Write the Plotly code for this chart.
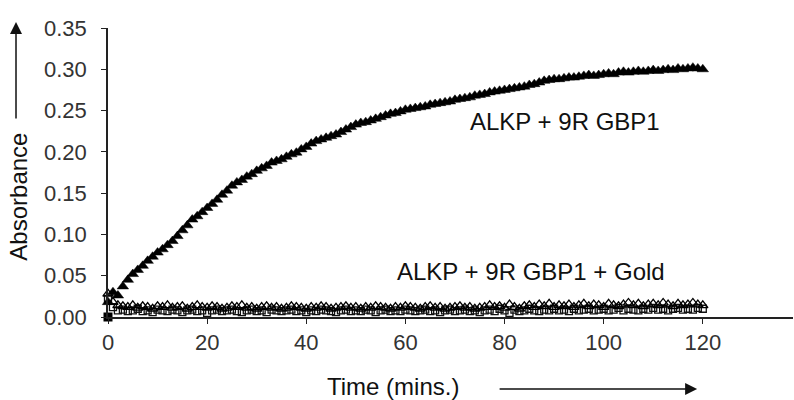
import plotly.graph_objects as go

# Time points (minutes)
time_min = list(range(0, 121))

# ALKP + 9R GBP1 (absorbance)
alkp_gbp1 = [
    0.018, 0.030, 0.026, 0.037, 0.045, 0.052, 0.057, 0.062, 0.068, 0.073,
    0.078, 0.082, 0.087, 0.092, 0.098, 0.105, 0.111, 0.118, 0.122, 0.127,
    0.132, 0.137, 0.142, 0.148, 0.153, 0.159, 0.163, 0.166, 0.170, 0.173,
    0.177, 0.180, 0.183, 0.187, 0.189, 0.191, 0.194, 0.197, 0.199, 0.203,
    0.206, 0.210, 0.213, 0.215, 0.217, 0.219, 0.221, 0.224, 0.227, 0.230,
    0.233, 0.235, 0.236, 0.238, 0.240, 0.242, 0.244, 0.246, 0.247, 0.249,
    0.251, 0.252, 0.253, 0.254, 0.255, 0.257, 0.258, 0.259, 0.260, 0.261,
    0.263, 0.264, 0.265, 0.266, 0.268, 0.269, 0.270, 0.272, 0.273, 0.274,
    0.275, 0.276, 0.277, 0.278, 0.279, 0.281, 0.282, 0.284, 0.286, 0.287,
    0.288, 0.288, 0.289, 0.290, 0.290, 0.291, 0.292, 0.293, 0.292, 0.293,
    0.294, 0.295, 0.294, 0.296, 0.297, 0.296, 0.297, 0.298, 0.297, 0.298,
    0.299, 0.298, 0.299, 0.300, 0.299, 0.301, 0.300, 0.301, 0.302, 0.301,
    0.300,
]

# ALKP + 9R GBP1 + Gold, replicate A (open triangles)
alkp_gold_a = [
    0.028, 0.018, 0.014, 0.013, 0.012, 0.014, 0.011, 0.013, 0.012, 0.010,
    0.013, 0.012, 0.014, 0.011, 0.012, 0.013, 0.010, 0.012, 0.014, 0.012,
    0.011, 0.013, 0.012, 0.010, 0.011, 0.013, 0.012, 0.014, 0.011, 0.012,
    0.010, 0.012, 0.013, 0.011, 0.012, 0.010, 0.011, 0.013, 0.012, 0.011,
    0.010, 0.012, 0.011, 0.013, 0.012, 0.010, 0.011, 0.012, 0.013, 0.011,
    0.012, 0.010, 0.012, 0.011, 0.013, 0.012, 0.011, 0.010, 0.012, 0.011,
    0.013, 0.012, 0.011, 0.010, 0.012, 0.013, 0.011, 0.012, 0.010, 0.011,
    0.012, 0.013, 0.011, 0.012, 0.010, 0.011, 0.012, 0.014, 0.012, 0.013,
    0.011, 0.015, 0.012, 0.010, 0.013, 0.014, 0.012, 0.015, 0.013, 0.016,
    0.012, 0.014, 0.013, 0.015, 0.012, 0.014, 0.016, 0.013, 0.015, 0.014,
    0.012, 0.016, 0.014, 0.013, 0.015, 0.017, 0.014, 0.016, 0.013, 0.015,
    0.016, 0.014, 0.017, 0.015, 0.013, 0.016, 0.014, 0.015, 0.017, 0.015,
    0.014,
]

# ALKP + 9R GBP1 + Gold, replicate B (open squares)
alkp_gold_b = [
    0.022, 0.012, 0.008, 0.009, 0.007, 0.008, 0.010, 0.007, 0.008, 0.006,
    0.009, 0.008, 0.007, 0.009, 0.008, 0.006, 0.008, 0.009, 0.007, 0.008,
    0.005, 0.008, 0.009, 0.007, 0.008, 0.009, 0.007, 0.006, 0.008, 0.009,
    0.007, 0.008, 0.006, 0.009, 0.008, 0.007, 0.008, 0.009, 0.007, 0.008,
    0.006, 0.008, 0.007, 0.009, 0.008, 0.007, 0.006, 0.008, 0.009, 0.007,
    0.008, 0.007, 0.009, 0.008, 0.006, 0.008, 0.009, 0.007, 0.008, 0.007,
    0.009, 0.008, 0.007, 0.008, 0.009, 0.007, 0.008, 0.006, 0.008, 0.009,
    0.007, 0.008, 0.009, 0.007, 0.008, 0.006, 0.008, 0.009, 0.007, 0.010,
    0.008, 0.005, 0.009, 0.007, 0.008, 0.010, 0.008, 0.007, 0.009, 0.008,
    0.010, 0.008, 0.009, 0.007, 0.010, 0.008, 0.009, 0.010, 0.008, 0.009,
    0.010, 0.008, 0.009, 0.011, 0.008, 0.010, 0.009, 0.008, 0.010, 0.009,
    0.011, 0.009, 0.010, 0.008, 0.010, 0.011, 0.009, 0.010, 0.009, 0.011,
    0.010,
]

# Blank reading at t = 0
blank_time = [0]
blank_abs = [0.0]

x_ticks = [0, 20, 40, 60, 80, 100, 120]
y_ticks = [0.00, 0.05, 0.10, 0.15, 0.20, 0.25, 0.30, 0.35]

FONT = "Arial, 'Liberation Sans', sans-serif"

fig = go.Figure()

fig.add_trace(go.Scatter(
    x=time_min, y=alkp_gold_b, mode="markers",
    marker=dict(symbol="square-open", size=7, color="#111",
                line=dict(width=1.3, color="#111")),
    cliponaxis=False, showlegend=False,
))
fig.add_trace(go.Scatter(
    x=time_min, y=alkp_gold_a, mode="markers",
    marker=dict(symbol="triangle-up-open", size=9, color="#000",
                line=dict(width=1.3, color="#000")),
    cliponaxis=False, showlegend=False,
))
fig.add_trace(go.Scatter(
    x=time_min, y=alkp_gbp1, mode="markers",
    marker=dict(symbol="triangle-up", size=10, color="#000",
                line=dict(width=0.5, color="#000")),
    cliponaxis=False, showlegend=False,
))
fig.add_trace(go.Scatter(
    x=blank_time, y=blank_abs, mode="markers",
    marker=dict(symbol="square", size=9, color="#000"),
    cliponaxis=False, showlegend=False,
))

fig.update_xaxes(
    range=[0, 138.2], tickvals=x_ticks, ticks="outside", ticklen=5,
    tickwidth=1, tickcolor="#222", showline=True, linecolor="#222",
    linewidth=1.5, showgrid=False, zeroline=False,
    tickfont=dict(family=FONT, size=22, color="#333"),
    ticklabelstandoff=0,
)
fig.update_yaxes(
    range=[0, 0.35], tickvals=y_ticks, tickformat=".2f", ticks="outside",
    ticklen=5, tickwidth=1, tickcolor="#222", showline=True,
    linecolor="#222", linewidth=1.5, showgrid=False, zeroline=False,
    tickfont=dict(family=FONT, size=22, color="#333"),
    ticklabelstandoff=10,
)

annotations = [
    dict(text="ALKP + 9R GBP1", x=92.3, y=0.237, xref="x", yref="y",
         xanchor="center", yanchor="middle", showarrow=False,
         font=dict(family=FONT, size=24, color="#111")),
    dict(text="ALKP + 9R GBP1 + Gold", x=85.4, y=0.0557, xref="x", yref="y",
         xanchor="center", yanchor="middle", showarrow=False,
         font=dict(family=FONT, size=24, color="#111")),
    dict(text="Absorbance", x=-0.132, y=0.415, xref="paper", yref="paper",
         xanchor="center", yanchor="middle", textangle=-90, showarrow=False,
         font=dict(family=FONT, size=24, color="#111")),
    dict(text="", x=-0.1343, y=1.0208, xref="paper", yref="paper",
         showarrow=True, ax=0, ay=98, arrowhead=2, arrowsize=1.6,
         arrowwidth=1.5, arrowcolor="#111"),
    dict(text="Time (mins.)", x=0.416, y=-0.242, xref="paper", yref="paper",
         xanchor="center", yanchor="middle", showarrow=False,
         font=dict(family=FONT, size=24, color="#111")),
    dict(text="", x=0.86, y=-0.249, xref="paper", yref="paper",
         showarrow=True, ax=-199, ay=0, arrowhead=2, arrowsize=1.6,
         arrowwidth=1.5, arrowcolor="#111"),
]

fig.update_layout(
    width=794, height=400,
    margin=dict(l=108, r=1, t=28, b=83),
    paper_bgcolor="white", plot_bgcolor="white",
    annotations=annotations,
    font=dict(family=FONT),
)

fig.write_html("out.html")
